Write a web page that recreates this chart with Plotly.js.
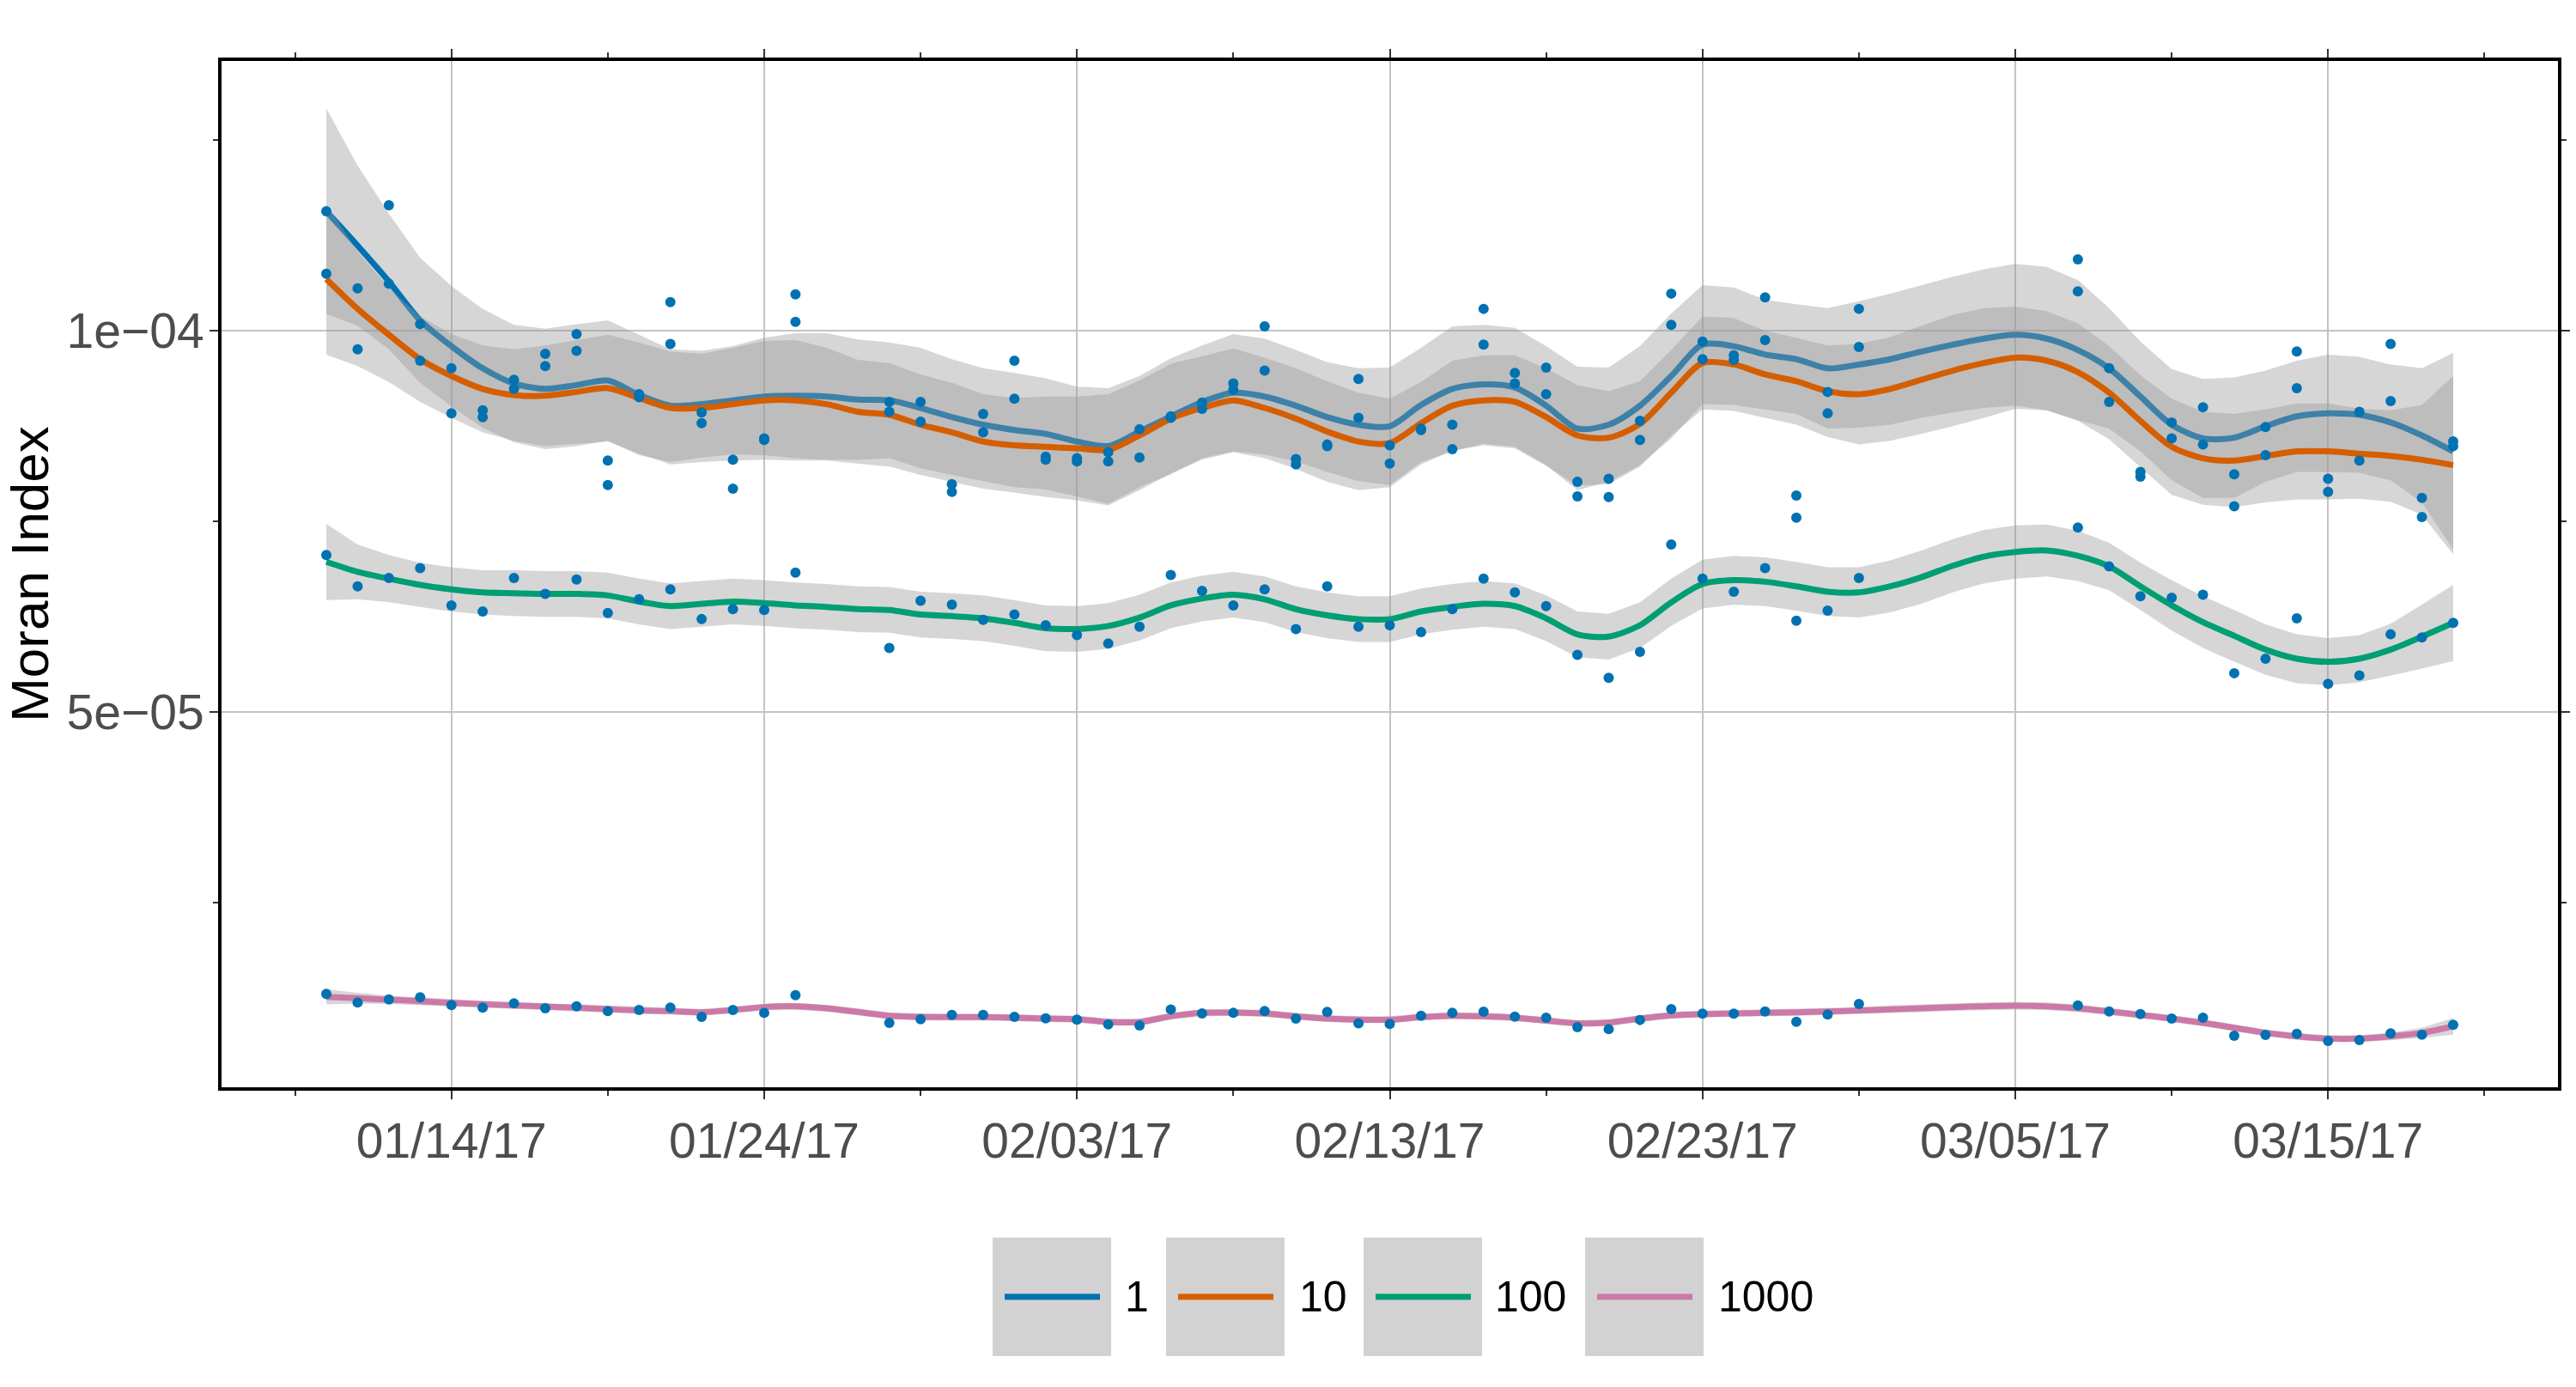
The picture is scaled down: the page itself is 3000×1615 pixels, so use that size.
<!DOCTYPE html>
<html><head><meta charset="utf-8">
<script src="https://cdn.plot.ly/plotly-3.0.1.min.js"></script>
<style>html,body{margin:0;padding:0;background:#fff;} #chart{width:3000px;height:1615px;}</style>
</head><body><div id="chart"></div>
<script>
// All Moran Index values below are in units of 1e-6.
const seriesNames = ['1', '10', '100', '1000'];
const seriesColors = ['#0072B2', '#D55E00', '#009E73', '#CC79A7'];

// Smoothed fit days
const fitDays = [
'2017-01-10','2017-01-11','2017-01-12','2017-01-13','2017-01-14','2017-01-15','2017-01-16','2017-01-17','2017-01-18','2017-01-19','2017-01-20',
'2017-01-21','2017-01-22','2017-01-23','2017-01-24','2017-01-25','2017-01-26','2017-01-27','2017-01-28','2017-01-29','2017-01-30','2017-01-31',
'2017-02-01','2017-02-02','2017-02-03','2017-02-04','2017-02-05','2017-02-06','2017-02-07','2017-02-08','2017-02-09','2017-02-10',
'2017-02-11','2017-02-12','2017-02-13','2017-02-14','2017-02-15','2017-02-16','2017-02-17','2017-02-18','2017-02-19','2017-02-20',
'2017-02-21','2017-02-22','2017-02-23','2017-02-24','2017-02-25','2017-02-26','2017-02-27','2017-02-28',
'2017-03-01','2017-03-02','2017-03-03','2017-03-04','2017-03-05','2017-03-06','2017-03-07','2017-03-08','2017-03-09','2017-03-10',
'2017-03-11','2017-03-12','2017-03-13','2017-03-14','2017-03-15','2017-03-16','2017-03-17','2017-03-18','2017-03-19'];

const fit1 = [115.7,111.2,106.5,101.4,98.0,95.1,93.1,92.4,92.9,93.5,91.6,90.2,90.4,90.9,91.4,91.5,91.4,91.0,90.9,89.9,88.7,87.7,
87.0,86.5,85.5,84.9,86.8,88.8,90.7,91.9,91.4,90.2,88.7,87.7,87.5,90.3,92.4,93.0,92.6,90.2,87.2,87.7,90.2,94.1,98.2,98.0,96.9,96.3,95.1,95.6,
96.3,97.3,98.2,99.0,99.5,99.0,97.5,95.1,91.4,87.7,85.9,86.0,87.5,88.8,89.2,89.0,88.0,86.3,84.2];
const fit10 = [106.8,102.9,99.5,96.3,94.1,92.4,91.6,91.5,92.0,92.5,91.2,89.9,89.9,90.4,90.9,90.9,90.4,89.4,89.0,87.7,86.7,85.5,
85.0,84.8,84.6,84.4,86.3,88.5,89.9,90.9,89.9,88.5,86.8,85.5,85.3,87.9,90.2,90.9,90.7,88.7,86.3,86.0,87.8,91.9,95.8,95.6,94.3,93.4,92.1,91.7,
92.4,93.6,94.8,95.8,96.5,96.1,94.6,91.9,88.2,84.8,83.3,83.0,83.6,84.2,84.2,83.9,83.6,83.1,82.4];
const fit100 = [69.7,68.4,67.5,66.7,66.1,65.7,65.6,65.5,65.5,65.3,64.5,63.9,64.2,64.5,64.3,64.0,63.8,63.5,63.4,62.8,62.6,62.3,
61.7,61.0,60.9,61.3,62.4,64.0,64.9,65.4,64.8,63.5,62.7,62.2,62.2,63.2,63.8,64.2,63.9,62.3,60.2,59.9,61.4,64.4,66.8,67.3,67.1,66.5,65.8,65.7,
66.5,67.7,69.2,70.4,71.0,71.2,70.5,69.1,66.5,64.0,61.8,60.0,58.2,57.0,56.6,57.0,58.2,59.9,61.7];
const fit1000 = [12.65,12.46,12.27,12.08,11.86,11.67,11.52,11.37,11.22,11.03,10.85,10.77,10.62,10.92,11.30,11.41,11.15,10.66,10.17,10.02,9.98,9.98,
9.91,9.79,9.72,9.34,9.34,10.09,10.55,10.58,10.47,10.09,9.79,9.64,9.64,9.98,10.17,10.09,9.91,9.53,9.16,9.27,9.79,10.21,10.39,10.47,10.55,10.62,10.73,10.85,
11.00,11.15,11.30,11.41,11.48,11.41,11.15,10.73,10.28,9.79,9.23,8.59,7.92,7.46,7.16,7.16,7.46,7.92,8.78];

// Half-widths of the confidence bands
const se1 = [13.5,10.5,8.9,8.2,7.9,7.8,7.7,7.9,8.0,7.9,7.9,7.4,7.0,7.1,7.7,8.2,8.3,7.9,7.6,7.9,7.6,7.4,
7.5,7.3,7.2,7.6,7.3,7.6,7.4,7.7,7.6,7.3,7.2,7.4,7.7,7.5,8.2,7.8,7.8,7.8,8.1,7.5,7.8,8.2,7.8,7.7,7.2,7.2,7.9,8.3,
8.6,8.7,8.9,9.1,9.3,9.4,9.2,7.9,7.2,7.3,7.8,7.9,7.3,7.3,7.7,7.6,7.6,8.8,12.9];
const se10 = [9.9,7.5,6.2,5.6,5.5,5.7,6.0,6.6,6.8,7.0,7.3,7.4,7.1,7.4,7.8,7.9,7.4,6.8,6.8,6.6,6.5,6.2,
6.2,6.6,6.8,7.3,7.2,7.2,6.8,6.8,6.6,6.6,6.6,6.4,5.8,5.4,5.9,5.9,6.1,6.4,6.6,6.1,5.6,5.6,6.1,6.1,5.7,5.7,6.0,6.6,
6.8,7.1,7.3,7.2,6.7,6.5,6.4,6.1,6.0,6.3,6.1,6.1,6.1,6.3,6.3,5.9,6.0,7.2,11.7];
const se100 = [5.0,3.6,3.1,2.9,2.9,2.9,3.0,3.0,3.0,3.0,3.0,3.0,3.0,3.0,3.0,3.0,3.0,3.0,3.0,3.0,3.0,3.0,
3.0,3.0,3.0,3.0,3.0,3.0,3.0,3.0,3.0,3.0,3.0,3.0,3.0,3.0,3.0,3.0,3.0,3.0,3.0,3.0,3.0,3.1,3.2,3.2,3.2,3.2,3.2,3.3,
3.4,3.5,3.5,3.5,3.5,3.4,3.3,3.1,3.1,3.3,3.4,3.4,3.3,3.2,3.1,3.1,3.4,4.2,5.0];
const se1000 = [1.0,0.7,0.55,0.5,0.45,0.45,0.45,0.45,0.45,0.45,0.45,0.45,0.45,0.45,0.45,0.45,0.45,0.45,0.45,0.45,0.45,0.45,
0.45,0.45,0.45,0.45,0.45,0.45,0.45,0.45,0.45,0.45,0.45,0.45,0.45,0.45,0.45,0.45,0.45,0.45,0.45,0.45,0.45,0.45,0.45,0.45,0.45,0.45,0.45,0.45,
0.5,0.5,0.5,0.5,0.5,0.5,0.5,0.45,0.45,0.45,0.45,0.45,0.45,0.45,0.45,0.45,0.5,0.65,1.1];

// Observed points
const pointDays = [
'2017-01-10','2017-01-11','2017-01-12','2017-01-13','2017-01-14','2017-01-15','2017-01-16','2017-01-17','2017-01-18','2017-01-19','2017-01-20',
'2017-01-21','2017-01-22','2017-01-23','2017-01-24','2017-01-25','2017-01-28','2017-01-29','2017-01-30','2017-01-31',
'2017-02-01','2017-02-02','2017-02-03','2017-02-04','2017-02-05','2017-02-06','2017-02-07','2017-02-08','2017-02-09','2017-02-10',
'2017-02-11','2017-02-12','2017-02-13','2017-02-14','2017-02-15','2017-02-16','2017-02-17','2017-02-18','2017-02-19','2017-02-20',
'2017-02-21','2017-02-22','2017-02-23','2017-02-24','2017-02-25','2017-02-26','2017-02-27','2017-02-28',
'2017-03-07','2017-03-08','2017-03-09','2017-03-10','2017-03-11','2017-03-12','2017-03-13','2017-03-14','2017-03-15','2017-03-16',
'2017-03-17','2017-03-18','2017-03-19'];
const pts1 = [115.7,105.6,116.5,100.9,95.1,89.6,93.6,97.0,99.6,83.0,91.7,103.8,89.3,83.1,85.9,104.8,90.7,90.7,79.9,89.1,
96.1,83.5,83.3,84.1,87.1,88.8,90.6,93.1,100.6,83.2,85.1,93.7,85.0,87.2,87.7,102.9,94.5,95.2,80.2,80.6,88.2,104.9,98.6,96.8,104.4,78.4,92.0,102.9,
109.4,95.1,81.5,88.0,90.0,81.2,87.4,97.3,80.6,89.4,98.3,78.1,85.5];
const pts10 = [107.5,97.6,106.2,96.1,89.2,88.7,92.4,95.4,97.4,79.8,91.3,98.3,87.9,79.3,85.7,101.2,89.4,88.1,78.9,86.7,
91.1,83.1,82.9,82.9,83.4,88.6,89.8,92.3,94.8,82.5,84.9,88.6,82.6,87.0,84.5,98.2,93.1,91.7,78.3,78.2,85.7,100.8,96.3,96.2,98.8,75.5,89.2,97.9,
105.2,90.7,80.9,85.9,85.1,77.0,83.7,92.5,78.9,83.0,90.8,75.6,84.9];
const pts100 = [70.6,66.5,67.6,68.9,64.0,63.2,67.6,65.5,67.4,63.0,64.8,66.1,62.2,63.5,63.4,68.3,58.4,64.6,64.1,62.1,
62.8,61.4,60.1,59.0,61.2,68.0,65.9,64.0,66.1,60.9,66.5,61.2,61.4,60.5,63.5,67.5,65.7,63.9,57.5,54.5,57.9,72.0,67.5,65.8,68.9,62.0,63.3,67.6,
74.2,69.1,65.2,65.0,65.4,55.1,57.0,62.3,53.7,54.8,60.2,59.8,61.7];
const pts1000 = [13.02,11.90,12.31,12.57,11.56,11.22,11.78,11.15,11.41,10.77,10.92,11.22,10.02,10.92,10.54,12.87,9.23,9.72,10.28,10.28,
10.02,9.83,9.64,9.04,8.89,10.99,10.47,10.54,10.77,9.79,10.66,9.16,9.08,10.17,10.54,10.69,10.06,9.91,8.67,8.40,9.61,11.03,10.43,10.43,10.73,9.38,10.32,11.71,
11.52,10.73,10.39,9.79,9.91,7.54,7.65,7.80,6.86,6.98,7.84,7.69,8.97];

// Axis ticks
const xTickDays = ['2017-01-14','2017-01-24','2017-02-03','2017-02-13','2017-02-23','2017-03-05','2017-03-15'];
const xTickText = ['01/14/17','01/24/17','02/03/17','02/13/17','02/23/17','03/05/17','03/15/17'];
const xMinorDays = ['2017-01-09','2017-01-19','2017-01-29','2017-02-08','2017-02-18','2017-02-28','2017-03-10','2017-03-20'];
const yTickVals = [50, 100];
const yTickText = ['5e\u221205', '1e\u221204'];
const yMinorVals = [25, 75, 125];

const fits = [fit1, fit10, fit100, fit1000];
const ses = [se1, se10, se100, se1000];
const ptsAll = [pts1, pts10, pts100, pts1000];

const FONT = 'Liberation Sans, Arial, Helvetica, sans-serif';
const traces = [];
fits.forEach((fit, k) => {
  const up = fit.map((v, i) => v + ses[k][i]);
  const lo = fit.map((v, i) => v - ses[k][i]);
  traces.push({
    type: 'scatter', mode: 'lines', hoverinfo: 'skip', showlegend: false,
    x: fitDays.concat(fitDays.slice().reverse()),
    y: up.concat(lo.slice().reverse()),
    fill: 'toself', fillcolor: 'rgba(153,153,153,0.4)', line: {width: 0}
  });
  traces.push({
    type: 'scatter', mode: 'lines', showlegend: false, name: seriesNames[k],
    x: fitDays, y: fit, line: {color: seriesColors[k], width: 7, shape: 'spline', smoothing: 0.8}
  });
});
ptsAll.forEach((p) => {
  traces.push({
    type: 'scatter', mode: 'markers', showlegend: false,
    x: pointDays, y: p, marker: {color: '#0072B2', size: 12}
  });
});

// Legend drawn in paper coordinates
const L = 258, R = 2979, T = 71, B = 1266;
const px = v => (v - L) / (R - L);
const py = v => (B - v) / (B - T);
const keyLeft = [1156, 1358, 1588, 1846];
const labelLeft = [1308, 1511, 1739, 1999];
const shapes = [];
const annotations = [];
keyLeft.forEach((k, i) => {
  shapes.push({type: 'rect', xref: 'paper', yref: 'paper', x0: px(k), x1: px(k + 138), y0: py(1579), y1: py(1441),
    fillcolor: '#D2D2D2', line: {width: 0}});
  shapes.push({type: 'line', xref: 'paper', yref: 'paper', x0: px(k + 14), x1: px(k + 125), y0: py(1510), y1: py(1510),
    line: {color: seriesColors[i], width: 7}});
  annotations.push({xref: 'paper', yref: 'paper', x: px(labelLeft[i]), y: py(1510), xanchor: 'left', yanchor: 'middle',
    text: seriesNames[i], showarrow: false, font: {family: FONT, size: 50, color: '#000000'}});
});

const layout = {
  width: 3000, height: 1615,
  margin: {l: L, r: 3000 - R, t: T, b: 1615 - B, autoexpand: false},
  paper_bgcolor: '#FFFFFF', plot_bgcolor: '#FFFFFF',
  showlegend: false,
  font: {family: FONT},
  xaxis: {
    type: 'date', range: ['2017-01-06 15:36', '2017-03-22 08:24'],
    tickmode: 'array', tickvals: xTickDays, ticktext: xTickText,
    tickfont: {family: FONT, size: 57, color: '#4D4D4D'},
    showgrid: true, gridcolor: '#C4C4C4', gridwidth: 2,
    showline: true, linecolor: '#000000', linewidth: 4, mirror: 'allticks',
    ticks: 'outside', ticklen: 10, tickwidth: 2, tickcolor: '#333333',
    minor: {tickmode: 'array', tickvals: xMinorDays, ticks: 'outside', ticklen: 6, tickwidth: 2, tickcolor: '#333333', showgrid: false},
    zeroline: false, automargin: false
  },
  yaxis: {
    range: [0.78, 135.42],
    tickmode: 'array', tickvals: yTickVals, ticktext: yTickText,
    tickfont: {family: FONT, size: 57, color: '#4D4D4D'},
    ticklabelstandoff: -5,
    showgrid: true, gridcolor: '#C4C4C4', gridwidth: 2,
    showline: true, linecolor: '#000000', linewidth: 4, mirror: 'allticks',
    ticks: 'outside', ticklen: 10, tickwidth: 2, tickcolor: '#333333',
    minor: {tickmode: 'array', tickvals: yMinorVals, ticks: 'outside', ticklen: 6, tickwidth: 2, tickcolor: '#333333', showgrid: false},
    zeroline: false, automargin: false,
    title: {text: 'Moran Index', font: {family: FONT, size: 62, color: '#000000'}, standoff: 14}
  },
  shapes: shapes,
  annotations: annotations
};

Plotly.newPlot('chart', traces, layout, {displayModeBar: false, staticPlot: true});
</script>
</body></html>
